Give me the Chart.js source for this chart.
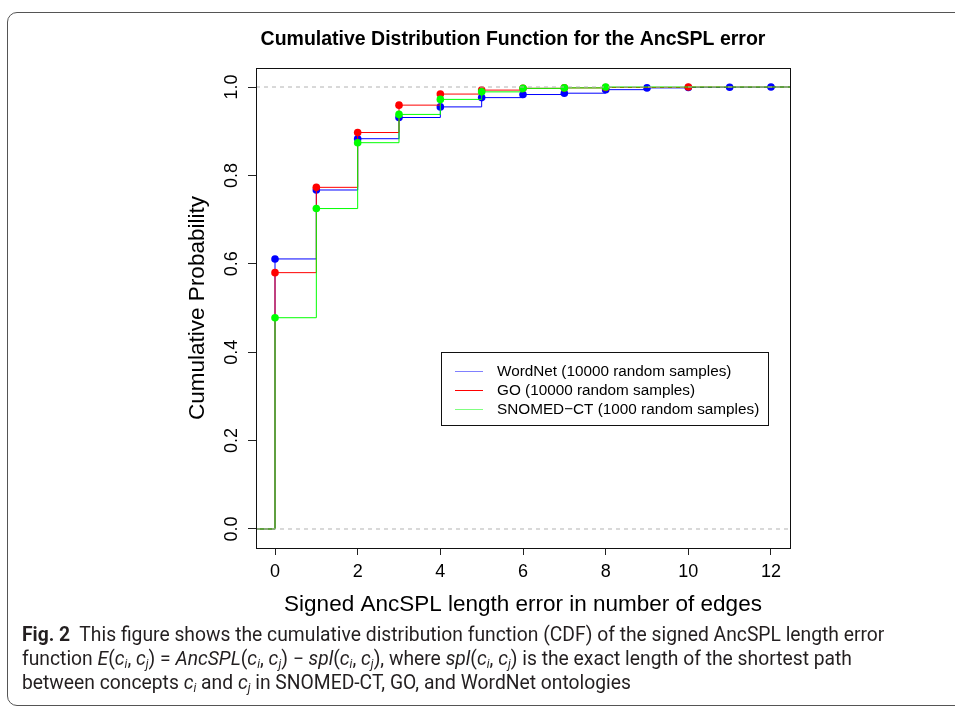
<!DOCTYPE html>
<html>
<head>
<meta charset="utf-8">
<script src="https://cdn.jsdelivr.net/npm/chart.js@4"></script>
<style>
  body { margin: 0; background: #fff; width: 955px; height: 708px; overflow: hidden; position: relative; }
  .frame { position: absolute; left: 7px; top: 12px; width: 990px; height: 692px; border: 1px solid #555; border-radius: 10px; }
  #cdf { position: absolute; left: 0; top: 0; }
  .caption { position: absolute; left: 22px; top: 623px; width: 930px; font-family: Roboto, "Open Sans", sans-serif; font-size: 19.3px; line-height: 24px; color: #231f20; white-space: nowrap; }
  .caption sub { font-size: 12px; vertical-align: -3px; line-height: 0; }
</style>
</head>
<body>
<div class="frame"></div>
<canvas id="cdf" width="955" height="625"></canvas>
<div class="caption">
<b>Fig. 2</b>&nbsp; This figure shows the cumulative distribution function (CDF) of the signed AncSPL length error<br>
function <i>E</i>(<i>c<sub>i</sub></i>, <i>c<sub>j</sub></i>) = <i>AncSPL</i>(<i>c<sub>i</sub></i>, <i>c<sub>j</sub></i>) − <i>spl</i>(<i>c<sub>i</sub></i>, <i>c<sub>j</sub></i>), where <i>spl</i>(<i>c<sub>i</sub></i>, <i>c<sub>j</sub></i>) is the exact length of the shortest path<br>
between concepts <i>c<sub>i</sub></i> and <i>c<sub>j</sub></i> in SNOMED-CT, GO, and WordNet ontologies
</div>
<script>
// данные
const seriesNames = ["WordNet (10000 random samples)", "GO (10000 random samples)", "SNOMED\u2212CT (1000 random samples)"];
const seriesColors = ["#0000ff", "#ff0000", "#00ff00"];
const legendColors = ["#8080ff", "#ff0000", "#80ff80"];

const wordnetX = [0, 1, 2, 3, 4, 5, 6, 7, 8, 9, 10, 11, 12];
const wordnetCdf = [0.611, 0.767, 0.883, 0.931, 0.955, 0.976, 0.983, 0.986, 0.994, 0.998, 0.999, 0.9995, 1.0];

const goX = [0, 1, 2, 3, 4, 5, 6, 7, 8, 10];
const goCdf = [0.580, 0.773, 0.897, 0.959, 0.984, 0.993, 0.997, 0.998, 0.999, 1.0];

const snomedX = [0, 1, 2, 3, 4, 5, 6, 7, 8];
const snomedCdf = [0.478, 0.725, 0.874, 0.938, 0.972, 0.989, 0.997, 0.998, 1.0];

const xTicks = [0, 2, 4, 6, 8, 10, 12];
const yTicks = [0, 0.2, 0.4, 0.6, 0.8, 1.0];
const xLimits = [-0.46, 12.46];
const yLimits = [-0.043, 1.043];

// ступенчатая линия ecdf: от левого края до правого
const stepSeries = (xs, ys) => {
    const pts = [{x: xLimits[0], y: 0}];
    xs.forEach((x, i) => pts.push({x: x, y: ys[i]}));
    pts.push({x: xLimits[1], y: ys[ys.length - 1]});
    return pts;
}

const makeDataset = (idx, xs, ys, order) => {
    const data = stepSeries(xs, ys);
    return {
        label: seriesNames[idx],
        data: data,
        stepped: 'before',
        borderColor: seriesColors[idx],
        backgroundColor: seriesColors[idx],
        borderWidth: 1,
        pointRadius: data.map((p, i) => (i == 0 || i == data.length - 1) ? 0 : 3.8),
        pointBorderWidth: 0,
        pointBackgroundColor: seriesColors[idx],
        order: order
    }
}

const refLine = (yv) => ({
    label: "",
    data: [{x: xLimits[0], y: yv}, {x: xLimits[1], y: yv}],
    borderColor: "#b3b3b3",
    borderDash: [4, 4],
    borderWidth: 1,
    pointRadius: 0,
    order: 0
});

// рамка, заголовок и легенда
const decorPlugin = {
    id: "decor",
    afterDraw(chart) {
        const ctx = chart.ctx;
        const a = chart.chartArea;
        ctx.save();
        ctx.strokeStyle = "#111";
        ctx.lineWidth = 1;
        ctx.strokeRect(Math.round(a.left) + 0.5, Math.round(a.top) + 0.5, Math.round(a.right - a.left), Math.round(a.bottom - a.top));

        ctx.fillStyle = "#000";
        ctx.font = "bold 19.5px 'Liberation Sans', Arial, sans-serif";
        ctx.textAlign = "center";
        ctx.textBaseline = "middle";
        ctx.fillText("Cumulative Distribution Function for the AncSPL error", 513, 40);

        // легенда
        ctx.strokeStyle = "#111";
        ctx.strokeRect(441.5, 352.5, 327, 73);
        ctx.font = "15.3px 'Liberation Sans', Arial, sans-serif";
        ctx.textAlign = "left";
        const rows = [371, 390, 409];
        seriesNames.forEach((name, i) => {
            ctx.strokeStyle = legendColors[i];
            ctx.beginPath();
            ctx.moveTo(455, rows[i] + 0.5);
            ctx.lineTo(483, rows[i] + 0.5);
            ctx.stroke();
            ctx.fillStyle = "#000";
            ctx.fillText(name, 497, rows[i] + 1);
        });
        ctx.restore();
    }
}

Chart.defaults.font.family = "'Liberation Sans', Arial, sans-serif";
Chart.defaults.color = "#000";

new Chart(document.getElementById("cdf").getContext("2d"), {
    type: "line",
    data: {
        datasets: [
            refLine(0),
            refLine(1),
            makeDataset(2, snomedX, snomedCdf, 1),
            makeDataset(1, goX, goCdf, 2),
            makeDataset(0, wordnetX, wordnetCdf, 3)
        ]
    },
    options: {
        responsive: false,
        animation: false,
        devicePixelRatio: 1,
        layout: {
            padding: {left: 184, right: 165, top: 68, bottom: 7}
        },
        plugins: {
            legend: {display: false},
            title: {display: false},
            tooltip: {enabled: false}
        },
        scales: {
            x: {
                type: "linear",
                min: xLimits[0],
                max: xLimits[1],
                afterBuildTicks: (s) => { s.ticks = xTicks.map(v => ({value: v})); },
                afterFit: (s) => { s.height = 70; },
                grid: {drawOnChartArea: false, tickLength: 7, color: "#222"},
                border: {display: false},
                ticks: {font: {size: 18}, padding: 6, maxRotation: 0, callback: (v) => String(v)},
                title: {display: true, text: "Signed AncSPL length error in number of edges", font: {size: 22.5}, padding: 0}
            },
            y: {
                type: "linear",
                min: yLimits[0],
                max: yLimits[1],
                afterBuildTicks: (s) => { s.ticks = yTicks.map(v => ({value: v})); },
                afterFit: (s) => { s.width = 72; },
                grid: {drawOnChartArea: false, tickLength: 8, color: "#222"},
                border: {display: false},
                ticks: {font: {size: 18}, padding: 3, minRotation: 90, maxRotation: 90, crossAlign: "center", callback: (v) => v.toFixed(1)},
                title: {display: true, text: "Cumulative Probability", font: {size: 22.5}, padding: 0}
            }
        }
    },
    plugins: [decorPlugin]
});
</script>
</body>
</html>
